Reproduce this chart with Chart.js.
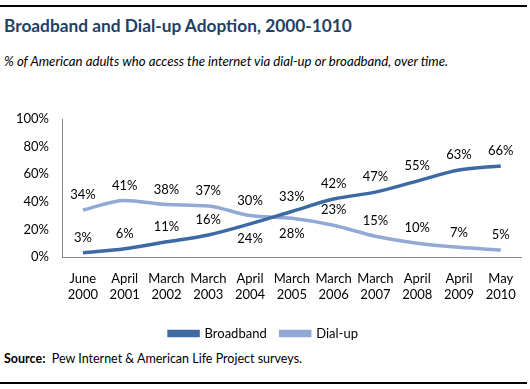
<!DOCTYPE html>
<html>
<head>
<meta charset="utf-8">
<script src="https://cdn.jsdelivr.net/npm/chart.js@4.4.1/dist/chart.umd.min.js"></script>
<style>
  body { margin: 0; width: 530px; height: 389px; background: #fff; position: relative; overflow: hidden; font-family: Lato, "Open Sans", sans-serif; }
  .rule { position: absolute; left: 0; width: 527px; height: 2px; background: #000; }
  #title { position: absolute; left: 4px; top: 15px; font-size: 17.3px; font-weight: bold; color: #1f3f66; white-space: nowrap; }
  #subtitle { position: absolute; left: 4px; top: 53px; font-size: 13.2px; font-style: italic; color: #000; white-space: nowrap; }
  #source { position: absolute; left: 4px; top: 351px; font-size: 12.5px; color: #000; white-space: nowrap; }
  #wrap { position: absolute; left: 0; top: 90px; width: 530px; height: 260px; }
</style>
</head>
<body>
<div class="rule" style="top:5px"></div>
<div id="title">Broadband and Dial-up Adoption, 2000-1010</div>
<div id="subtitle">% of American adults who access the internet via dial-up or broadband, over time.</div>
<div id="wrap"><canvas id="chart"></canvas></div>
<div id="source"><b>Source:</b>&nbsp; Pew Internet &amp; American Life Project surveys.</div>
<div class="rule" style="top:382px"></div>

<script>
// survey dates (two-line labels)
const surveyDates = [
  ['June', '2000'], ['April', '2001'], ['March', '2002'], ['March', '2003'],
  ['April', '2004'], ['March', '2005'], ['March', '2006'], ['March', '2007'],
  ['April', '2008'], ['April', '2009'], ['May', '2010']
];
const broadband = [3, 6, 11, 16, 24, 33, 42, 47, 55, 63, 66];
const dialup = [34, 41, 38, 37, 30, 28, 23, 15, 10, 7, 5];
const yTicks = [0, 20, 40, 60, 80, 100];

// which labels sit under their point instead of above
const labelBelow = {
  0: [4],
  1: [5]
};

const pointLabels = {
  id: 'pointLabels',
  afterDatasetsDraw(chart) {
    const ctx = chart.ctx;
    ctx.save();
    ctx.font = '13px Lato, "Open Sans", sans-serif';
    ctx.fillStyle = '#000';
    ctx.textAlign = 'center';
    ctx.textBaseline = 'middle';
    chart.data.datasets.forEach((ds, i) => {
      const meta = chart.getDatasetMeta(i);
      meta.data.forEach((pt, j) => {
        const below = (labelBelow[i] || []).includes(j);
        ctx.fillText(ds.data[j] + '%', pt.x, below ? pt.y + 15 : pt.y - 15);
      });
    });
    ctx.restore();
  }
};

const font = { family: 'Lato, "Open Sans", sans-serif', size: 13 };

new Chart(document.getElementById('chart'), {
  type: 'line',
  data: {
    labels: surveyDates,
    datasets: [
      {
        label: 'Broadband',
        data: broadband,
        borderColor: '#3d6aa5',
        backgroundColor: '#3d6aa5',
        borderWidth: 3.5,
        pointRadius: 0,
        tension: 0.3,
        cubicInterpolationMode: 'monotone'
      },
      {
        label: 'Dial-up',
        data: dialup,
        borderColor: '#93a9d5',
        backgroundColor: '#93a9d5',
        borderWidth: 3.5,
        pointRadius: 0,
        tension: 0.3,
        cubicInterpolationMode: 'monotone'
      }
    ]
  },
  options: {
    responsive: true,
    maintainAspectRatio: false,
    animation: false,
    layout: { padding: { top: 29, right: 3, left: 0, bottom: 0 } },
    plugins: {
      tooltip: { enabled: false },
      legend: {
        position: 'bottom',
        labels: {
          color: '#000',
          font: font,
          boxWidth: 29,
          boxHeight: 4,
          padding: 14
        }
      }
    },
    scales: {
      x: {
        offset: true,
        afterFit(scale) { scale.height = 56; },
        grid: { display: false, drawTicks: false },
        border: { color: '#888', width: 1 },
        ticks: { color: '#000', font: font, maxRotation: 0, autoSkip: false, padding: 14 }
      },
      y: {
        min: 0,
        max: 100,
        afterFit(scale) { scale.width = 62; },
        afterBuildTicks(scale) { scale.ticks = yTicks.map(v => ({ value: v })); },
        grid: { display: false, drawTicks: false },
        border: { color: '#888', width: 1 },
        ticks: { color: '#000', font: font, padding: 13, callback: v => v + '%' }
      }
    }
  },
  plugins: [pointLabels]
});
</script>
</body>
</html>
